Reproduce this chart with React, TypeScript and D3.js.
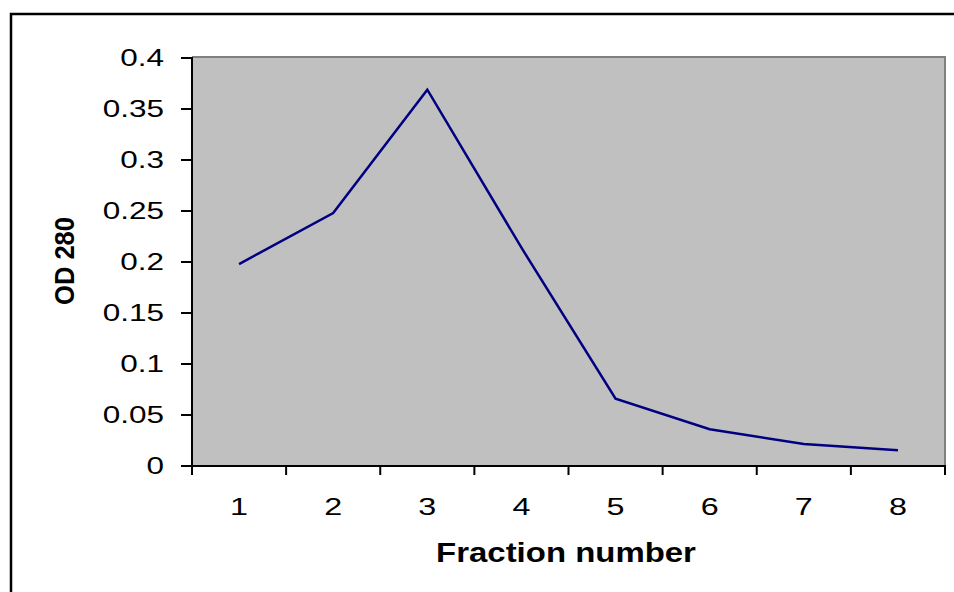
import * as d3 from "d3";
import React, { RefObject, useEffect, useRef } from "react";

const fractions = ["1", "2", "3", "4", "5", "6", "7", "8"];
const od280 = [0.198, 0.248, 0.369, 0.214, 0.066, 0.036, 0.0215, 0.0155];
const yTicks = [0, 0.05, 0.1, 0.15, 0.2, 0.25, 0.3, 0.35, 0.4];
const yTickLabels = ["0", "0.05", "0.1", "0.15", "0.2", "0.25", "0.3", "0.35", "0.4"];

const App = () => {
  const d3Ref: RefObject<SVGSVGElement> = useRef(null);

  useEffect(() => {
    const width = 954;
    const height = 592;
    const plot = { left: 192, top: 57, right: 945, bottom: 466 };
    const font = "'Liberation Sans', Arial, sans-serif";

    const svg = d3.select(d3Ref.current);
    svg.selectAll("*").remove();

    svg.append("rect").attr("width", width).attr("height", height).attr("fill", "#fff");

    // outer chart border (only left and top show in the frame)
    svg
      .append("path")
      .attr("d", `M11,${height + 5} V14 H${width + 5}`)
      .attr("fill", "none")
      .attr("stroke", "#000")
      .attr("stroke-width", 2.5);

    const x = d3.scaleBand().domain(fractions).range([plot.left, plot.right]);
    const y = d3.scaleLinear().domain([0, 0.4]).range([plot.bottom, plot.top + 1]);

    svg
      .append("rect")
      .attr("x", plot.left)
      .attr("y", plot.top)
      .attr("width", plot.right - plot.left)
      .attr("height", plot.bottom - plot.top)
      .attr("fill", "#c0c0c0");

    svg
      .append("path")
      .attr("d", `M${plot.left},${plot.top} H${plot.right} V${plot.bottom}`)
      .attr("fill", "none")
      .attr("stroke", "#808080")
      .attr("stroke-width", 2);

    const line = d3
      .line<number>()
      .x((_, i) => (x(fractions[i]) as number) + x.bandwidth() / 2)
      .y((d) => y(d));

    svg
      .append("path")
      .datum(od280)
      .attr("d", line)
      .attr("fill", "none")
      .attr("stroke", "#000080")
      .attr("stroke-width", 2.5);

    // axes
    const axes = svg.append("g").attr("stroke", "#000").attr("stroke-width", 2);
    axes
      .append("line")
      .attr("x1", plot.left)
      .attr("x2", plot.left)
      .attr("y1", plot.top)
      .attr("y2", plot.bottom + 9);
    axes
      .append("line")
      .attr("x1", plot.left - 11)
      .attr("x2", plot.right + 1)
      .attr("y1", plot.bottom)
      .attr("y2", plot.bottom);

    axes
      .selectAll("line.ytick")
      .data(yTicks)
      .enter()
      .append("line")
      .attr("class", "ytick")
      .attr("x1", plot.left - 11)
      .attr("x2", plot.left)
      .attr("y1", (d) => y(d))
      .attr("y2", (d) => y(d));

    const bounds = fractions.map((f) => x(f) as number).concat([plot.right]);
    axes
      .selectAll("line.xtick")
      .data(bounds)
      .enter()
      .append("line")
      .attr("class", "xtick")
      .attr("x1", (d) => d)
      .attr("x2", (d) => d)
      .attr("y1", plot.bottom)
      .attr("y2", plot.bottom + 9);

    svg
      .selectAll("g.ylabel")
      .data(yTicks)
      .enter()
      .append("g")
      .attr("class", "ylabel")
      .attr("transform", (d) => `translate(164, ${y(d) + 8}) scale(1.34, 1)`)
      .append("text")
      .attr("text-anchor", "end")
      .attr("font-family", font)
      .attr("font-size", 23.5)
      .attr("fill", "#000")
      .text((_, i) => yTickLabels[i]);

    svg
      .selectAll("g.xlabel")
      .data(fractions)
      .enter()
      .append("g")
      .attr("class", "xlabel")
      .attr("transform", (d) => `translate(${(x(d) as number) + x.bandwidth() / 2}, 515) scale(1.32, 1)`)
      .append("text")
      .attr("text-anchor", "middle")
      .attr("font-family", font)
      .attr("font-size", 24.5)
      .attr("fill", "#000")
      .text((d) => d);

    svg
      .append("g")
      .attr("transform", "translate(566, 562) scale(1.22, 1)")
      .append("text")
      .attr("text-anchor", "middle")
      .attr("font-family", font)
      .attr("font-size", 27)
      .attr("font-weight", "bold")
      .attr("fill", "#000")
      .text("Fraction number");

    svg
      .append("g")
      .attr("transform", "translate(74, 261) rotate(-90) scale(1.02, 1.08)")
      .append("text")
      .attr("text-anchor", "middle")
      .attr("font-family", font)
      .attr("font-size", 25)
      .attr("font-weight", "bold")
      .attr("fill", "#000")
      .text("OD 280");
  }, [d3Ref]);

  return (
    <svg
      ref={d3Ref}
      width={954}
      height={592}
      style={{ position: "absolute", left: 0, top: 0, display: "block" }}
    />
  );
};

export default App;
